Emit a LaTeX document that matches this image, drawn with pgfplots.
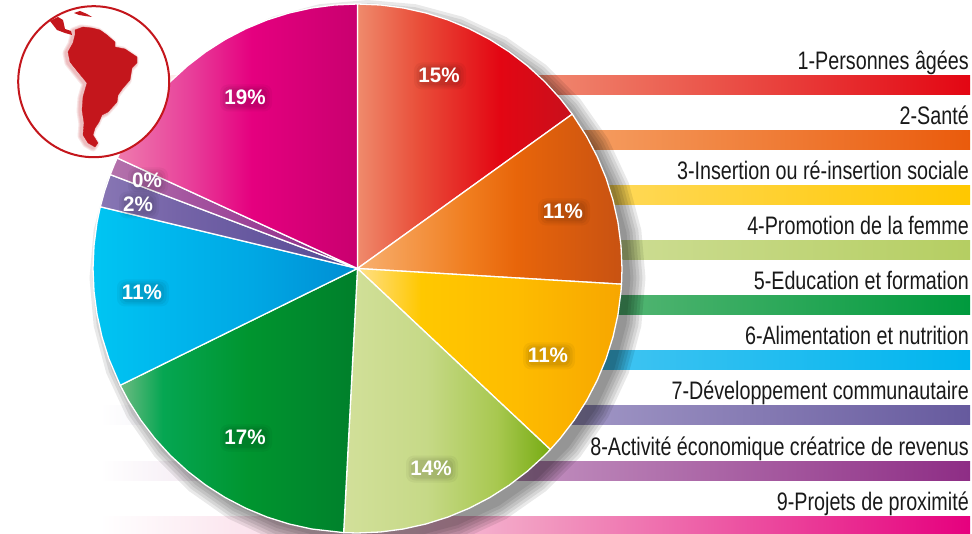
\documentclass[border=0pt]{standalone}
\usepackage{fontspec}
\setmainfont[FakeStretch=0.78]{Liberation Sans}
\newfontfamily\pctfont[FakeStretch=0.98]{Liberation Sans}
\usepackage{pgfplots}
\usepackage{pgfplotstable}
\pgfplotsset{compat=1.18}
\usepgfplotslibrary{polar}
\definecolor{mapred}{HTML}{C4161C}
\newcommand{\hx}[1]{\definecolor{#1}{HTML}{#1}}
\newcommand{\shd}[7]{\hx{#2}\hx{#4}\hx{#6}\hx{#7}%
  \pgfdeclarehorizontalshading{#1}{100bp}{color(0bp)=(#2); color(25bp)=(#2); color(#3bp)=(#4); color(#5bp)=(#6); color(75bp)=(#7); color(100bp)=(#7)}}
\definecolor{FFFFFF}{HTML}{FFFFFF}
% wedges
\shd{wa}{EF8A6C}{39}{E94F3A}{58}{E30613}{C8101C}
\shd{wb}{F8B070}{46}{F07D1E}{55}{E8650A}{C85212}
\shd{wc}{FFE08A}{37}{FFC800}{55}{FEBC00}{F7A600}
\shd{wd}{D2E09A}{45}{C6D987}{62}{A8C850}{76AB12}
\shd{we}{6DBB82}{34}{05A652}{52}{00952F}{007F2B}
\shd{wf}{00C5F2}{40}{00B6ED}{55}{00A8E4}{008DD3}
\shd{wg}{8876B4}{40}{7564A8}{55}{66589F}{554A94}
\shd{wh}{B473AC}{40}{A556A0}{55}{9A4095}{8A2B84}
\shd{wi}{EE7BAE}{40}{E8409A}{53}{E5007F}{C9006F}
% bars
\shd{ba}{FFFFFF}{42}{F2B3A4}{50}{F08A70}{E30613}
\shd{bb}{FFFFFF}{42}{F9CBA8}{50}{F6A56B}{EA5B0C}
\shd{bc}{FFFFFF}{42}{FFEDB0}{50}{FFDC6A}{FFC800}
\shd{bd}{FFFFFF}{42}{E7EFC8}{50}{D2E09E}{B5CE62}
\shd{be}{FFFFFF}{42}{A8D9B5}{50}{66BB7F}{009A3D}
\shd{bf}{FFFFFF}{42}{A0E0F7}{50}{4CC6F2}{00B5EE}
\shd{bg}{FFFFFF}{42}{CFC9E2}{50}{A69CC9}{665A9E}
\shd{bh}{FFFFFF}{42}{DFC4DD}{50}{BF8DBD}{8E2D85}
\shd{bi}{FFFFFF}{42}{F7C9DC}{50}{F29BC1}{E6007E}
\pgfplotsset{
  pxaxis/.style={hide axis,scale only axis,width=972pt,height=534pt,xmin=0,xmax=972,ymin=0,ymax=534,y dir=reverse,at={(0pt,0pt)},anchor=south west,clip=false},
  pieaxis/.style={hide axis,scale only axis,width=529pt,height=529pt,xmin=0,xmax=360,ymin=0,ymax=264.5,clip=false,anchor=center},
  wedge/.style={data cs=polar,draw=white,line width=1.3pt,line join=round,shade,shading=#1},
  hbar/.style={draw=none,shade,shading=#1}
}
\pgfplotstableread{
a r
0 1
10 1
20 1
30 1
40 1
50 1
60 1
70 1
80 1
90 1
100 1
110 1
120 1
130 1
140 1
150 1
160 1
170 1
180 1
190 1
200 1
210 1
220 1
230 1
240 1
250 1
260 1
270 1
280 1
290 1
300 1
310 1
320 1
330 1
340 1
350 1
360 1
}\ringtab
\tikzset{pctfontstyle/.style={font=\pctfont\fontsize{21}{21}\selectfont\bfseries}}
\newcommand{\pct}[4]{%
  \node[fill=black,opacity=0.04,rounded corners=8pt,minimum width=#4pt+10pt,minimum height=27pt,inner sep=0pt,xshift=1pt,yshift=-1pt] at (axis cs:#1,#2) {};%
  \node[fill=black,opacity=0.05,rounded corners=7pt,minimum width=#4pt+5pt,minimum height=23pt,inner sep=0pt,xshift=1pt,yshift=-1pt] at (axis cs:#1,#2) {};%
  \node[fill=black,opacity=0.06,rounded corners=6pt,minimum width=#4pt,minimum height=19pt,inner sep=0pt,xshift=1pt,yshift=-1pt] at (axis cs:#1,#2) {};%
  \node[text=white,pctfontstyle] at (axis cs:#1,#2) {#3};}
\newcommand{\lab}[2]{\node[anchor=base east,inner sep=0pt,text=black!90,font=\fontsize{25.3}{25.3}\selectfont] at (axis cs:969,#1) {#2};}
\begin{document}
\begin{tikzpicture}
\path[use as bounding box] (0,0) rectangle (972pt,534pt);
\clip (0,0) rectangle (972pt,534pt);
% ---- bars behind the pie
\begin{axis}[pxaxis]
\addplot[hbar=ba] coordinates {(100,76) (970,76) (970,95) (100,95)} -- cycle;
\addplot[hbar=bb] coordinates {(100,131) (970,131) (970,150) (100,150)} -- cycle;
\addplot[hbar=bc] coordinates {(100,186) (970,186) (970,205) (100,205)} -- cycle;
\addplot[hbar=bd] coordinates {(100,241) (970,241) (970,260) (100,260)} -- cycle;
\addplot[hbar=be] coordinates {(100,296) (970,296) (970,315) (100,315)} -- cycle;
\addplot[hbar=bf] coordinates {(100,351) (970,351) (970,370) (100,370)} -- cycle;
\addplot[hbar=bg] coordinates {(100,406) (970,406) (970,425) (100,425)} -- cycle;
\addplot[hbar=bh] coordinates {(100,461) (970,461) (970,480) (100,480)} -- cycle;
\addplot[hbar=bi] coordinates {(100,516) (970,516) (970,534) (100,534)} -- cycle;
\lab{70}{1-Personnes âgées}
\lab{125}{2-Santé}
\lab{180}{3-Insertion ou ré-insertion sociale}
\lab{235}{4-Promotion de la femme}
\lab{290}{5-Education et formation}
\lab{345}{6-Alimentation et nutrition}
\lab{400}{7-Développement communautaire}
\lab{455}{8-Activité économique créatrice de revenus}
\lab{510}{9-Projets de proximité}
\end{axis}
% ---- soft shadow of the pie
\begin{polaraxis}[pieaxis,at={(367.5pt,256pt)}]
\pgfplotsinvokeforeach{278,275,272,269,266,263}{
  \addplot[fill=black,draw=none,opacity=0.085] table[x=a,y expr=#1] {\ringtab};
}
\end{polaraxis}
% ---- pie: one wedge per share, angles counter-clockwise from the east
\begin{axis}[hide axis,scale only axis,width=972pt,height=534pt,xmin=-357.5,xmax=614.5,ymin=-265.5,ymax=268.5,at={(0pt,0pt)},anchor=south west,clip=false]
\addplot[wedge=wa] coordinates {(0,0) (35.7,264.5) (40,264.5) (45,264.5) (50,264.5) (55,264.5) (60,264.5) (65,264.5) (70,264.5) (75,264.5) (80,264.5) (85,264.5) (90,264.5)} -- cycle;
\addplot[wedge=wb] coordinates {(0,0) (-3.4,264.5) (0,264.5) (5,264.5) (10,264.5) (15,264.5) (20,264.5) (25,264.5) (30,264.5) (35.7,264.5)} -- cycle;
\addplot[wedge=wc] coordinates {(0,0) (-43.2,264.5) (-40,264.5) (-35,264.5) (-30,264.5) (-25,264.5) (-20,264.5) (-15,264.5) (-10,264.5) (-5,264.5) (-3.4,264.5)} -- cycle;
\addplot[wedge=wd] coordinates {(0,0) (-93,264.5) (-90,264.5) (-85,264.5) (-80,264.5) (-75,264.5) (-70,264.5) (-65,264.5) (-60,264.5) (-55,264.5) (-50,264.5) (-45,264.5) (-43.2,264.5)} -- cycle;
\addplot[wedge=we] coordinates {(0,0) (206.2,264.5) (210,264.5) (215,264.5) (220,264.5) (225,264.5) (230,264.5) (235,264.5) (240,264.5) (245,264.5) (250,264.5) (255,264.5) (260,264.5) (267,264.5)} -- cycle;
\addplot[wedge=wf] coordinates {(0,0) (166.5,264.5) (170,264.5) (175,264.5) (180,264.5) (185,264.5) (190,264.5) (195,264.5) (200,264.5) (206.2,264.5)} -- cycle;
\addplot[wedge=wg] coordinates {(0,0) (159.2,264.5) (163,264.5) (166.5,264.5)} -- cycle;
\addplot[wedge=wh] coordinates {(0,0) (155.3,264.5) (157,264.5) (159.2,264.5)} -- cycle;
\addplot[wedge=wi] coordinates {(0,0) (90,264.5) (95,264.5) (100,264.5) (105,264.5) (110,264.5) (115,264.5) (120,264.5) (125,264.5) (130,264.5) (135,264.5) (140,264.5) (145,264.5) (150,264.5) (155.3,264.5)} -- cycle;
\end{axis}
% ---- percentages and the inset map
\begin{axis}[pxaxis]
\pct{439}{75}{15\%}{42}
\pct{563}{211}{11\%}{42}
\pct{548}{355}{11\%}{42}
\pct{431}{468}{14\%}{42}
\pct{245}{437}{17\%}{42}
\pct{142}{292}{11\%}{42}
\pct{138}{204}{2\%}{30}
\pct{147}{180}{0\%}{30}
\pct{245}{97}{19\%}{42}
\draw[mapred,fill=white,line width=2pt] (axis cs:93.7,81.7) ellipse [x radius=75.5pt,y radius=75.5pt];
\pgfplotsinvokeforeach{7,5,3}{
\addplot[draw=mapred,opacity=0.10,line width=#1pt,line join=round,fill=none,xshift=-2pt,yshift=-1pt] coordinates {(75,30) (83,27) (92,28) (100,30) (107,35) (115,42) (115,47) (125,49) (137,57) (137,63) (132,68) (130,80) (123,88) (118,95) (117,102) (108,112) (102,115) (99,122) (95,128) (93,135) (98,143) (95,147) (88,143) (83,135) (84,123) (82,110) (83,97) (87,83) (78,72) (70,62) (68,52) (73,43) (75,35)} -- cycle;
}
\addplot[fill=mapred,draw=mapred,line width=0.3pt] coordinates {(75,30) (83,27) (92,28) (100,30) (107,35) (115,42) (115,47) (125,49) (137,57) (137,63) (132,68) (130,80) (123,88) (118,95) (117,102) (108,112) (102,115) (99,122) (95,128) (93,135) (98,143) (95,147) (88,143) (83,135) (84,123) (82,110) (83,97) (87,83) (78,72) (70,62) (68,52) (73,43) (75,35)} -- cycle;
\addplot[fill=mapred,draw=none] coordinates {(50,21) (58,17) (63,20) (65,29) (71,31) (72,35) (65,33) (57,30)} -- cycle;
\addplot[fill=mapred,draw=none] coordinates {(74,13) (80,11) (87,14) (92,17) (85,16) (79,15)} -- cycle;
\end{axis}
\end{tikzpicture}
\end{document}
